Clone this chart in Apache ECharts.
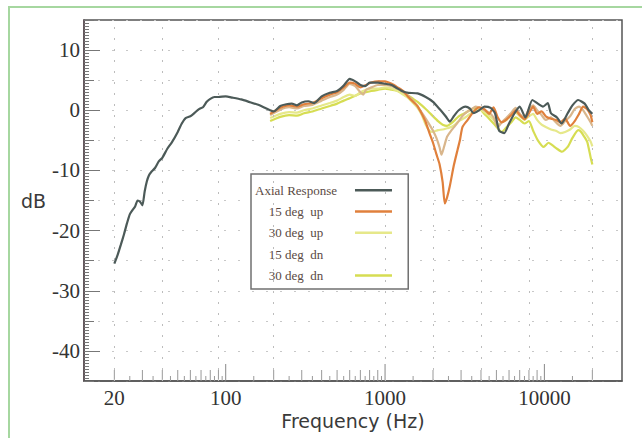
<!DOCTYPE html>
<html><head><meta charset="utf-8">
<script src="https://cdn.jsdelivr.net/npm/echarts@6/dist/echarts.min.js"></script>
<style>html,body{margin:0;padding:0;background:#fff}#c{width:642px;height:438px}</style>
</head><body><div id="c"></div><script>
// ---- data (frequency in Hz, level in dB) ----
var axialFreq = [20,21,22,23,24,25,26,27,28,29,30,31,32,33,34,36,38,40,43,46,50,53,56,60,64,68,72,76,80,85,90,100,110,125,140,160,180,200,220,240,260,280,300,330,360,400,450,500,550,600,650,700,750,800,900,1000,1100,1200,1300,1400,1600,1800,2000,2200,2400,2550,2700,2900,3200,3400,3600,3900,4200,4600,4900,5200,5600,6000,6500,7000,7600,8400,9100,9800,10500,11000,12000,12800,14000,15000,16300,17900,19000,20000];
var axialDb = [-25.5,-24,-22.3,-20.6,-18.8,-17.3,-16.6,-16,-15,-15.2,-15.8,-13.5,-11.8,-10.8,-10.3,-9.6,-8.5,-7.9,-6.4,-5.3,-3.6,-2.2,-1.3,-1,-0.4,0.2,0.5,1.4,1.9,2.2,2.2,2.3,2.1,1.8,1.4,0.9,0.3,-0.2,0.7,1.0,1.1,0.8,1.3,1.5,1.2,2.3,2.9,3.2,4.1,5.2,4.8,4.2,4.0,4.6,4.6,4.4,4.2,3.6,3.1,2.9,2.8,2.2,1.4,0.2,-1.0,-1.9,-1.0,0,0.6,0.3,-0.5,0,0.6,0.4,-0.5,-3.4,-3.8,-2.2,-0.5,0.6,-1.2,1.7,1.1,0.6,1.2,-0.5,-1.2,-2.2,-0.5,0.8,1.7,1.1,0,-0.6];

var up15Freq = [190,220,250,280,310,350,400,450,500,550,600,650,700,760,820,900,1000,1100,1200,1300,1400,1500,1600,1700,1800,1900,2000,2100,2200,2300,2370,2450,2550,2700,2850,2950,3060,3300,3600,3900,4200,4500,4800,5100,5400,5800,6200,6600,7000,7500,8000,8500,9000,9600,10200,11000,11800,12600,13500,14500,15500,16500,17500,18500,19500,20000];
var up15Db = [-0.6,0.4,0.8,0.6,1.0,1.2,2.0,2.6,3.0,3.8,4.6,4.4,3.8,4.2,4.6,4.8,4.8,4.4,3.8,3.2,2.2,1.4,0.7,-0.6,-2.0,-3.8,-5.4,-7.3,-9.0,-12.0,-15.5,-14.5,-12.6,-9.2,-6.6,-5.0,-2.8,-1.6,-0.2,0.5,0.2,-0.6,0.5,-1.2,-2.0,-1.5,-0.8,0.0,-0.8,-1.5,-0.5,0.6,-0.6,-0.2,-1.0,-1.4,-1.6,-2.0,-1.4,-2.6,-1.8,-0.6,0.6,0.2,-0.8,-2.0];

var up30Freq = [190,220,250,280,310,350,400,450,500,550,600,650,700,760,820,900,1000,1100,1200,1300,1400,1500,1600,1700,1800,1900,2000,2150,2300,2450,2600,2750,2900,3100,3300,3500,3700,3900,4200,4500,4800,5100,5400,5800,6200,6600,7000,7500,8000,8500,9000,9600,10200,11000,11800,12600,13500,14500,15500,16500,17500,18500,19500,20000];
var up30Db = [-1.3,-0.6,-0.3,-0.4,0.0,0.3,0.8,1.2,1.6,2.2,2.6,2.4,3.0,3.4,3.6,3.6,3.8,3.6,3.2,2.6,2.0,1.2,0.4,-0.8,-2.4,-3.4,-3.6,-3.3,-3.2,-3.0,-2.8,-2.4,-1.8,-1.4,-0.9,-0.4,0.0,0.2,-0.3,-0.9,-1.6,-2.4,-2.0,-1.6,-0.8,-0.4,-1.0,-1.6,-1.0,-0.6,-1.6,-2.4,-2.8,-3.2,-3.4,-3.8,-3.6,-3.2,-2.6,-2.8,-3.4,-4.2,-5.2,-6.0];

var dn15Freq = [190,220,250,280,310,350,400,450,500,550,600,650,700,730,760,820,900,1000,1100,1200,1300,1400,1500,1600,1700,1800,1900,2000,2100,2200,2260,2350,2450,2600,2750,2900,3100,3300,3500,3700,3900,4200,4500,4800,5100,5400,5800,6200,6600,7000,7500,8000,8500,9000,9600,10200,11000,11800,12600,13500,14500,15500,16500,17500,18500,19500,20000];
var dn15Db = [-0.8,0.1,0.5,0.3,0.7,0.9,1.6,2.2,2.6,3.4,4.4,4.0,3.0,2.6,3.4,3.8,4.2,4.2,4.0,3.6,3.0,2.4,1.6,0.6,-0.4,-1.4,-2.4,-3.4,-4.6,-6.2,-7.4,-6.0,-4.4,-3.4,-2.6,-1.8,-0.8,-0.2,0.2,0.6,0.4,0.0,-0.4,-1.2,-2.8,-2.0,-1.2,-0.4,0.4,-0.6,-1.2,0.2,0.8,0.0,-0.8,-1.6,-1.2,-2.0,-2.6,-1.8,-1.0,0.2,0.6,0.0,-1.0,-2.0,-2.6];

var dn30Freq = [190,220,250,280,310,350,400,450,500,550,600,650,700,760,820,900,1000,1100,1200,1300,1400,1500,1600,1700,1800,1900,2000,2150,2300,2450,2600,2750,2900,3100,3300,3500,3700,3900,4200,4500,4800,5100,5400,5800,6200,6600,7000,7500,8000,8500,9100,9900,10600,11200,12000,12900,14000,15000,16300,17000,18000,18600,19500,20000];
var dn30Db = [-1.8,-1.1,-0.8,-0.9,-0.5,-0.2,0.3,0.7,1.1,1.6,2.0,2.4,2.8,3.0,3.2,3.4,3.6,3.4,3.2,2.8,2.4,1.9,1.4,0.8,0.2,-0.4,-1.0,-1.8,-2.4,-2.6,-2.2,-1.6,-1.0,-0.6,-0.2,0.2,0.4,0.3,-0.6,-1.4,-2.2,-3.0,-3.6,-2.8,-2.0,-1.2,-1.6,-2.2,-1.8,-3.4,-5.0,-6.1,-5.4,-5.8,-6.4,-6.9,-6.1,-4.6,-3.3,-3.6,-4.6,-5.3,-7.8,-9.0];

var seriesNames = ['Axial Response','15 deg  up','30 deg  up','15 deg  dn','30 deg  dn'];

// axis ticks & labels
var xLabelValues = [20, 100, 1000, 10000];
var xMajorTicks = [100, 1000, 10000];
var xMidTicks = [20,30,40,50,60,70,80,90,200,300,400,500,600,700,800,900,2000,3000,4000,5000,6000,7000,8000,9000,20000];
var xMinorTicks = [25,35,45,55,65,75,85,95,150,250,350,450,550,650,750,850,950,1500,2500,3500,4500,5500,6500,7500,8500,9500,15000];
var xGridLines = [20, 40, 90, 200, 1000, 2000, 4000, 8000, 20000];
var yMajorTicks = [-40,-30,-20,-10,0,10];
var xMin = 12.9, xMax = 30700, yMin = -45, yMax = 15;

function pairs(f, d) { return f.map(function (v, i) { return [v, d[i]]; }); }

function tickSeries(values, len, color) {
  return {
    type: 'custom', silent: true, z: 4, clip: false,
    data: values.map(function (v) { return [v, yMin]; }),
    renderItem: function (params, api) {
      var p = api.coord([api.value(0), yMin]);
      return { type: 'line', shape: { x1: p[0], y1: p[1], x2: p[0], y2: p[1] - len },
               style: { stroke: color, lineWidth: 1 } };
    }
  };
}

var chart = echarts.init(document.getElementById('c'), null, { renderer: 'svg' });
var serifFont = 'Liberation Serif';
var sansFont = 'DejaVu Sans';

function lineSeries(name, f, d, color, w, z) {
  return { name: name, type: 'line', data: pairs(f, d), symbol: 'none', smooth: 0.2,
           color: color, lineStyle: { color: color, width: w }, z: z, silent: true };
}

var s30dn = lineSeries(seriesNames[4], dn30Freq, dn30Db, '#d6dd52', 2.2, 2);
s30dn.markLine = {
  silent: true, symbol: 'none', label: { show: false },
  lineStyle: { type: [2, 9], color: '#bcbcbc', width: 1 },
  data: xGridLines.map(function (v) { return { xAxis: v }; })
};

var option = {
  animation: false,
  backgroundColor: '#fff',
  grid: { left: 84, right: 20, top: 20, bottom: 57, show: true, borderColor: '#555', borderWidth: 1.5 },
  xAxis: {
    type: 'log', logBase: 10, min: xMin, max: xMax,
    axisLine: { show: true, onZero: false, lineStyle: { color: '#555', width: 1.5 } },
    axisTick: { show: false }, axisLabel: { show: false }, splitLine: { show: false },
    minorTick: { show: false }, minorSplitLine: { show: false },
    name: 'Frequency (Hz)', nameLocation: 'middle', nameGap: 30,
    nameTextStyle: { fontFamily: sansFont, fontSize: 19, color: '#3a3a3a' }
  },
  yAxis: [{
    type: 'value', min: yMin, max: yMax, interval: 5,
    axisLine: { show: true, onZero: false, lineStyle: { color: '#5b4b52', width: 1.5 } },
    axisTick: { show: true, inside: true, length: 10, lineStyle: { color: '#777' } },
    minorTick: { show: true, splitNumber: 10, length: 5, lineStyle: { color: '#777' } },
    axisLabel: { margin: 4, fontFamily: serifFont, fontSize: 21, color: '#333',
      formatter: function (v) { return (v % 10 === 0) ? String(v) : ''; } },
    splitLine: { show: true, lineStyle: { type: [2, 12], color: '#c8c8c8', width: 1 } },
    name: 'dB', nameLocation: 'middle', nameRotate: 0, nameGap: 36,
    nameTextStyle: { fontFamily: sansFont, fontSize: 19, color: '#3a3a3a' }
  }, {
    type: 'value', min: yMin, max: yMax, position: 'left', offset: 0,
    axisLine: { show: false, onZero: false },
    axisTick: { show: true, inside: true, length: 16, customValues: yMajorTicks, lineStyle: { color: '#777' } },
    axisLabel: { show: false }, splitLine: { show: false }
  }],
  legend: {
    orient: 'vertical', left: 251, top: 174, align: 'right',
    padding: [9.7, 15, 7, 4], itemGap: 8.3, itemWidth: 37, itemHeight: 14,
    backgroundColor: '#fff', borderColor: '#707070', borderWidth: 1.5,
    selectedMode: false,
    itemStyle: { opacity: 0 },
    lineStyle: { width: 2.5 },
    data: [
      { name: seriesNames[0] },
      { name: seriesNames[1] },
      { name: seriesNames[2] },
      { name: seriesNames[3], lineStyle: { opacity: 0 } },
      { name: seriesNames[4] }
    ],
    formatter: function (n) { return '{a|' + n + '}'; },
    textStyle: { rich: { a: { width: 108, align: 'center', fontFamily: serifFont, fontSize: 13, color: '#5a4a44' } } }
  },
  series: [
    s30dn,
    lineSeries(seriesNames[2], up30Freq, up30Db, '#e6e88a', 2.2, 3),
    lineSeries(seriesNames[3], dn15Freq, dn15Db, '#d9b68c', 2.2, 4),
    lineSeries(seriesNames[1], up15Freq, up15Db, '#e0803c', 2.2, 5),
    lineSeries(seriesNames[0], axialFreq, axialDb, '#4c5a58', 2.2, 6),
    tickSeries(xMajorTicks, 17, '#888'),
    tickSeries(xMidTicks, 11, '#999'),
    tickSeries(xMinorTicks, 5, '#999'),
    {
      type: 'custom', silent: true, z: 4, clip: false,
      data: xLabelValues.map(function (v) { return [v, yMin]; }),
      renderItem: function (params, api) {
        var v = api.value(0);
        var p = api.coord([v, yMin]);
        return { type: 'text', x: p[0], y: p[1] + 6,
                 style: { text: String(v), fontFamily: serifFont, fontSize: 21, fill: '#333', align: 'center', verticalAlign: 'top' } };
      }
    }
  ],
  graphic: [{
    type: 'rect', silent: true, z: -1,
    shape: { x: 9, y: 7, width: 800, height: 600 },
    style: { fill: 'none', stroke: '#a6d7a0', lineWidth: 2 }
  }]
};
chart.setOption(option);
</script></body></html>
